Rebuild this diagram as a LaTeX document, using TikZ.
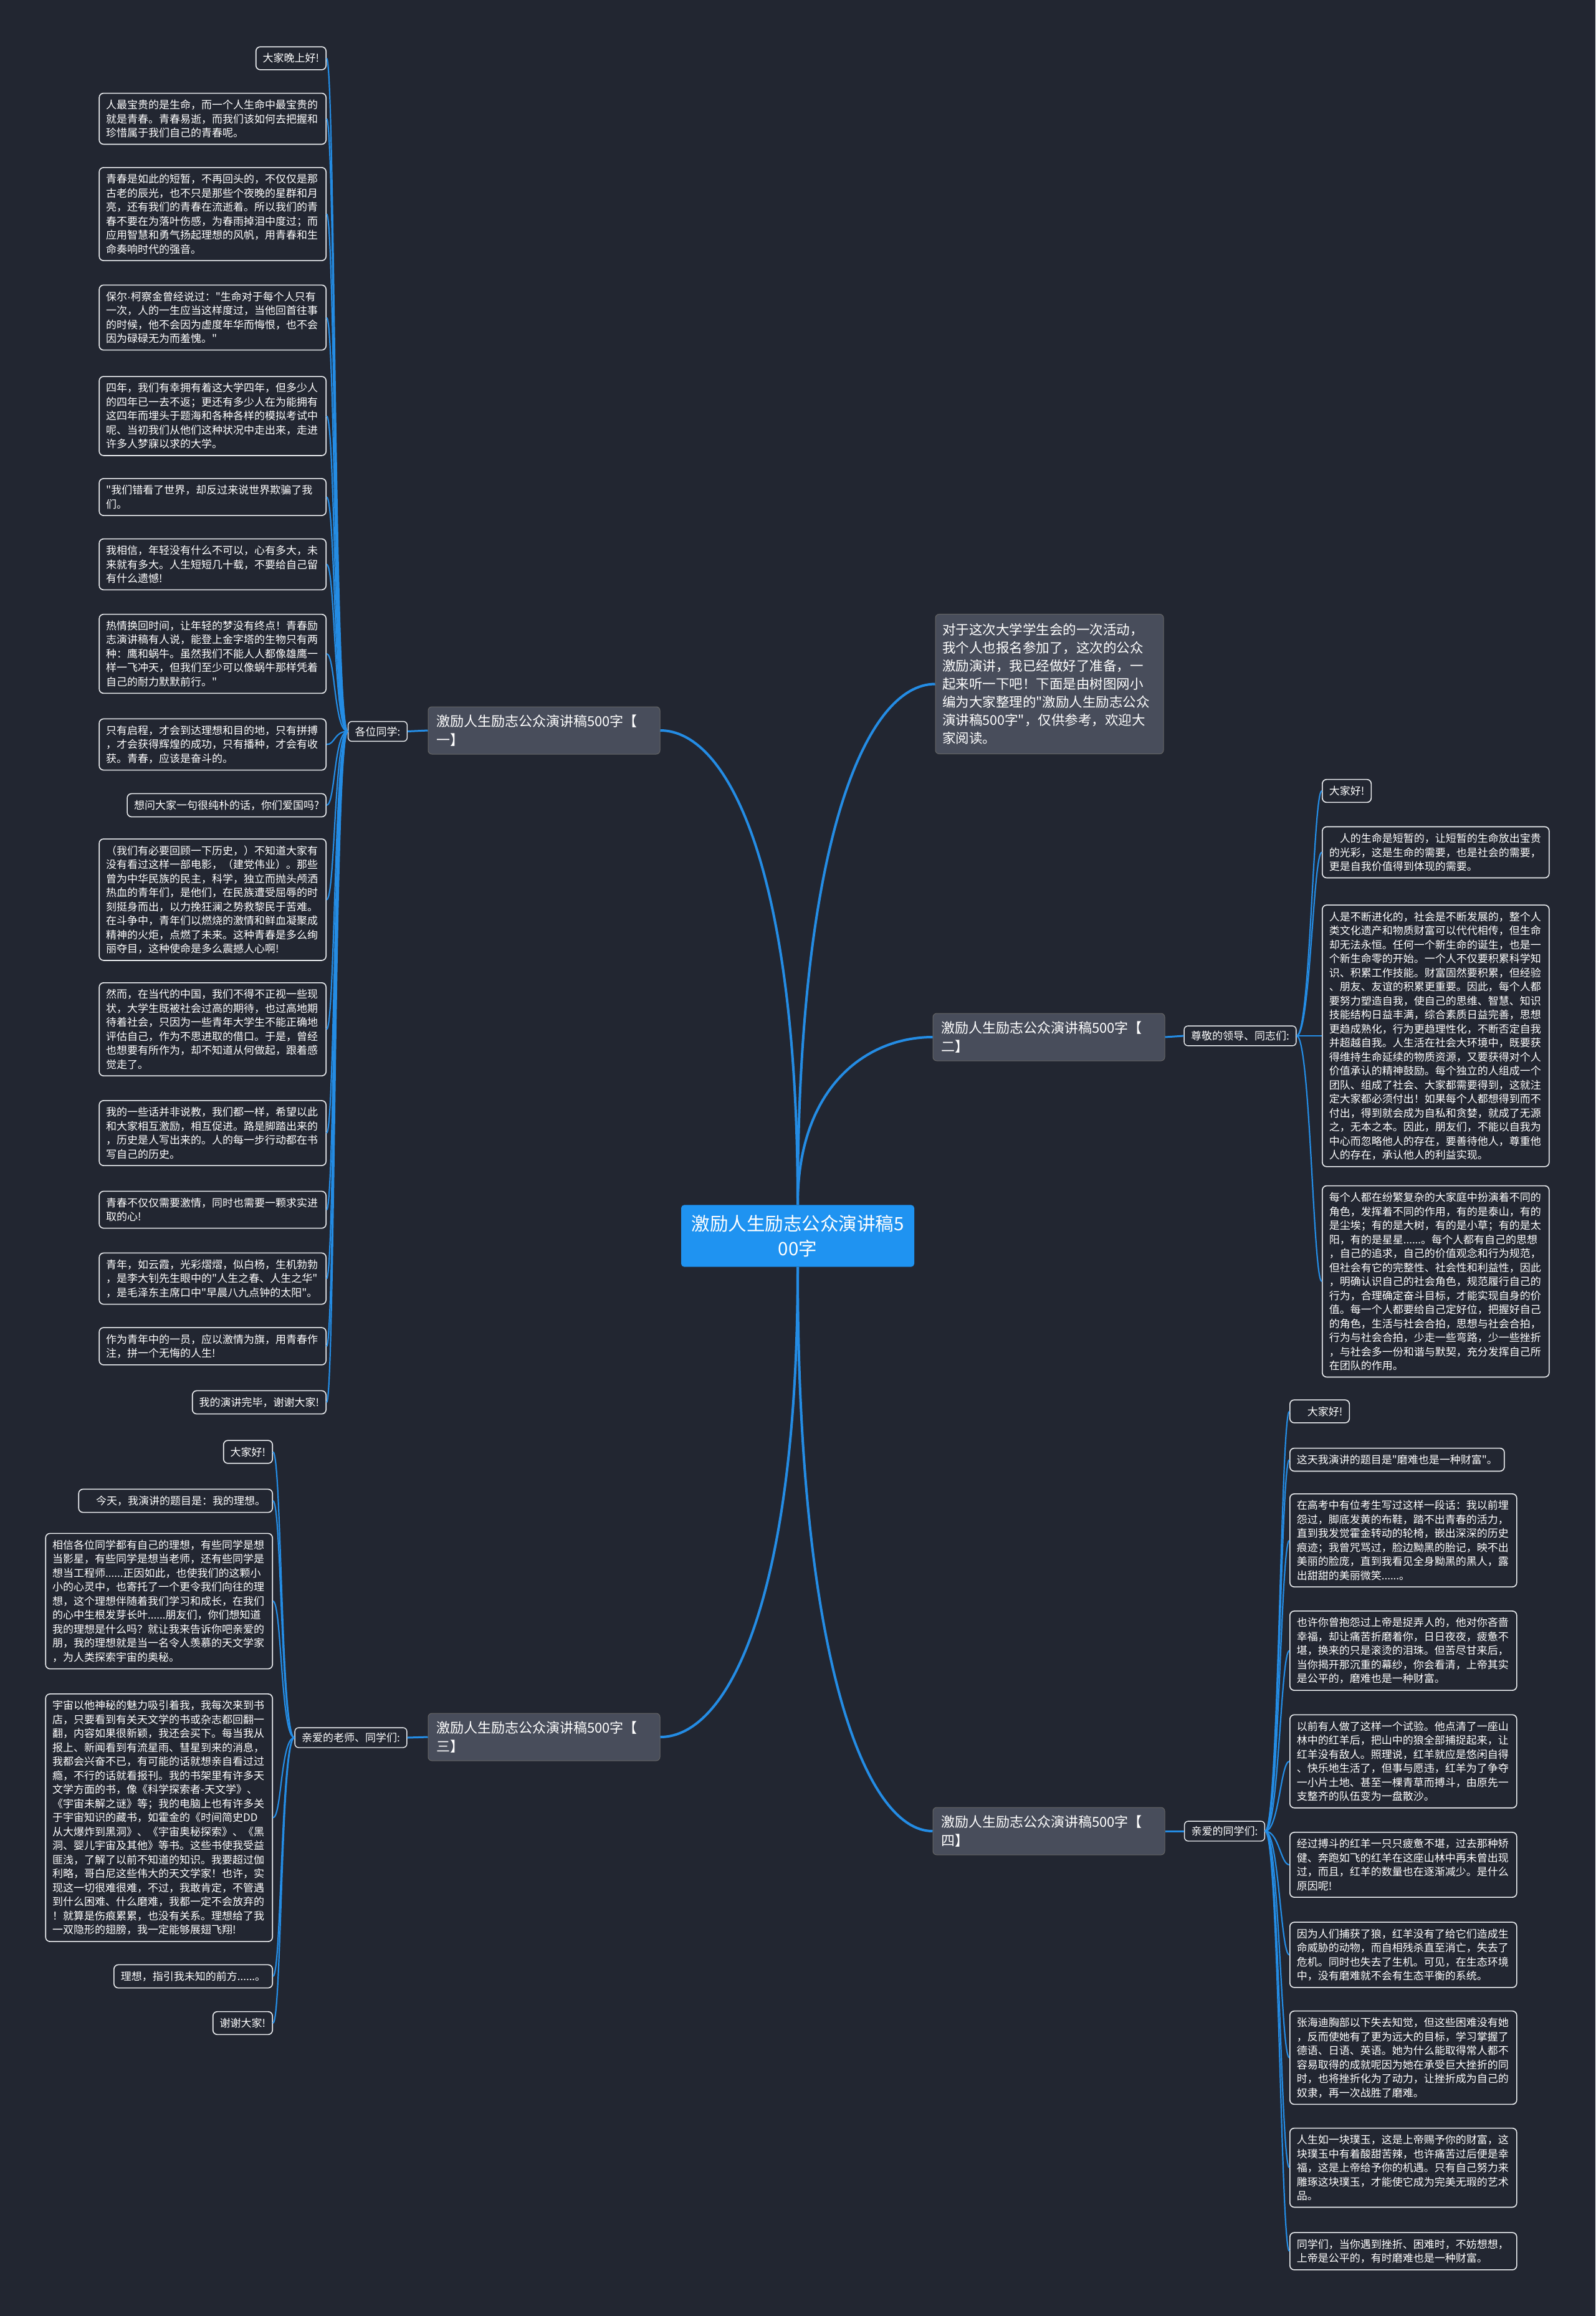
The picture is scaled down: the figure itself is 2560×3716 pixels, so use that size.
\documentclass[tikz,border=0pt]{standalone}
\usepackage{fontspec}
\newfontfamily\cjk{Noto Sans CJK SC}
\newfontfamily\latinf{Liberation Sans}
\definecolor{bg}{RGB}{34,38,49}
\definecolor{boxgray}{RGB}{72,77,91}
\definecolor{centerblue}{RGB}{31,147,241}
\definecolor{linkblue}{RGB}{36,140,228}
\definecolor{leafline}{RGB}{235,237,240}
\tikzset{
  leaf/.style={draw=leafline, line width=1.6pt, fill=bg, rounded corners=7pt, text=white,
    inner xsep=11pt, inner ysep=10.5pt, font={\cjk\fontsize{17}{22.5}\selectfont}, align=left},
  wide/.style={text width=342pt},
  lab/.style={draw=leafline, line width=1.4pt, fill=bg, rounded corners=6pt, text=white,
    inner xsep=11pt, inner ysep=8pt, font={\cjk\fontsize{17}{22.5}\selectfont}},
  branch/.style={fill=boxgray, draw=black!60, line width=1pt, rounded corners=6pt, text=white,
    text width=346pt, align=left, inner xsep=13pt, inner ysep=13pt, font={\cjk\fontsize{22}{29.5}\selectfont}},
  intro/.style={fill=boxgray, draw=black!60, line width=1pt, rounded corners=6pt, text=white,
    text width=344pt, align=left, inner xsep=11pt, inner ysep=15pt, font={\cjk\fontsize{21.5}{29}\selectfont}},
  root/.style={fill=centerblue, rounded corners=5pt, text=white, text width=344pt, align=center,
    inner xsep=15pt, inner ysep=16pt, font={\cjk\fontsize{29.5}{40}\selectfont}},
  mainlink/.style={draw=linkblue, line width=4pt},
  sublink/.style={draw=linkblue, line width=3pt},
  leaflink/.style={draw=linkblue, line width=2.2pt},
}
\begin{document}
\begin{tikzpicture}[x=1pt,y=-1pt]
\fill[bg] (0,0) rectangle (2560,3716);
\useasboundingbox (0,0) rectangle (2560,3716);

% ---- root and level 1
\node[root] (c) at (1280,1983) {激励人生励志公众演讲稿5\\00字};
\node[intro] (intro) at (1684,1097.5) {对于这次大学学生会的一次活动，\\我个人也报名参加了，这次的公众\\激励演讲，我已经做好了准备，一\\起来听一下吧！下面是由树图网小\\编为大家整理的"激励人生励志公众\\演讲稿500字"，仅供参考，欢迎大\\家阅读。};
\node[branch] (b1) at (873,1172) {激励人生励志公众演讲稿500字【\\一】};
\node[branch] (b2) at (1683,1664) {激励人生励志公众演讲稿500字【\\二】};
\node[branch] (b3) at (873,2787) {激励人生励志公众演讲稿500字【\\三】};
\node[branch] (b4) at (1683,2938) {激励人生励志公众演讲稿500字【\\四】};

\node[lab] (l1) at (606,1173.5) {各位同学:};
\node[lab] (l2) at (1990,1662) {尊敬的领导、同志们:};
\node[lab] (l3) at (563,2788) {亲爱的老师、同学们:};
\node[lab] (l4) at (1965,2938) {亲爱的同学们:};

% ---- branch 1 leaves
\node[leaf, anchor=east] (a1) at (524,93.5) {大家晚上好!};
\node[leaf, wide, anchor=east] (a2) at (524,190.5) {人最宝贵的是生命，而一个人生命中最宝贵的\\就是青春。青春易逝，而我们该如何去把握和\\珍惜属于我们自己的青春呢。};
\node[leaf, wide, anchor=east] (a3) at (524,343.5) {青春是如此的短暂，不再回头的，不仅仅是那\\古老的辰光，也不只是那些个夜晚的星群和月\\亮，还有我们的青春在流逝着。所以我们的青\\春不要在为落叶伤感，为春雨掉泪中度过；而\\应用智慧和勇气扬起理想的风帆，用青春和生\\命奏响时代的强音。};
\node[leaf, wide, anchor=east] (a4) at (524,509.5) {保尔{\latinf ·}柯察金曾经说过："生命对于每个人只有\\一次，人的一生应当这样度过，当他回首往事\\的时候，他不会因为虚度年华而悔恨，也不会\\因为碌碌无为而羞愧。"};
\node[leaf, wide, anchor=east] (a5) at (524,667.5) {四年，我们有幸拥有着这大学四年，但多少人\\的四年已一去不返；更还有多少人在为能拥有\\这四年而埋头于题海和各种各样的模拟考试中\\呢、当初我们从他们这种状况中走出来，走进\\许多人梦寐以求的大学。};
\node[leaf, wide, anchor=east] (a6) at (524,797.5) {"我们错看了世界，却反过来说世界欺骗了我\\们。};
\node[leaf, wide, anchor=east] (a7) at (524,905.5) {我相信，年轻没有什么不可以，心有多大，未\\来就有多大。人生短短几十载，不要给自己留\\有什么遗憾!};
\node[leaf, wide, anchor=east] (a8) at (524,1049) {热情换回时间，让年轻的梦没有终点！青春励\\志演讲稿有人说，能登上金字塔的生物只有两\\种：鹰和蜗牛。虽然我们不能人人都像雄鹰一\\样一飞冲天，但我们至少可以像蜗牛那样凭着\\自己的耐力默默前行。"};
\node[leaf, wide, anchor=east] (a9) at (524,1194.5) {只有启程，才会到达理想和目的地，只有拼搏\\，才会获得辉煌的成功，只有播种，才会有收\\获。青春，应该是奋斗的。};
\node[leaf, anchor=east] (a10) at (524,1292) {想问大家一句很纯朴的话，你们爱国吗?};
\node[leaf, wide, anchor=east] (a11) at (524,1443.5) {（我们有必要回顾一下历史，）不知道大家有\\没有看过这样一部电影，（建党伟业）。那些\\曾为中华民族的民主，科学，独立而抛头颅洒\\热血的青年们，是他们，在民族遭受屈辱的时\\刻挺身而出，以力挽狂澜之势救黎民于苦难。\\在斗争中，青年们以燃烧的激情和鲜血凝聚成\\精神的火炬，点燃了未来。这种青春是多么绚\\丽夺目，这种使命是多么震撼人心啊!};
\node[leaf, wide, anchor=east] (a12) at (524,1651.5) {然而，在当代的中国，我们不得不正视一些现\\状，大学生既被社会过高的期待，也过高地期\\待着社会，只因为一些青年大学生不能正确地\\评估自己，作为不思进取的借口。于是，曾经\\也想要有所作为，却不知道从何做起，跟着感\\觉走了。};
\node[leaf, wide, anchor=east] (a13) at (524,1818) {我的一些话并非说教，我们都一样，希望以此\\和大家相互激励，相互促进。路是脚踏出来的\\，历史是人写出来的。人的每一步行动都在书\\写自己的历史。};
\node[leaf, wide, anchor=east] (a14) at (524,1941) {青春不仅仅需要激情，同时也需要一颗求实进\\取的心!};
\node[leaf, wide, anchor=east] (a15) at (524,2051.5) {青年，如云霞，光彩熠熠，似白杨，生机勃勃\\，是李大钊先生眼中的"人生之春、人生之华"\\，是毛泽东主席口中"早晨八九点钟的太阳"。};
\node[leaf, wide, anchor=east] (a16) at (524,2160) {作为青年中的一员，应以激情为旗，用青春作\\注，拼一个无悔的人生!};
\node[leaf, anchor=east] (a17) at (524,2250) {我的演讲完毕，谢谢大家!};

% ---- branch 2 leaves
\node[leaf, anchor=west] (d1) at (2121,1269) {大家好!};
\node[leaf, wide, anchor=west] (d2) at (2121,1367.5) {\hspace*{17pt}人的生命是短暂的，让短暂的生命放出宝贵\\的光彩，这是生命的需要，也是社会的需要，\\更是自我价值得到体现的需要。};
\node[leaf, wide, anchor=west] (d3) at (2121,1662) {人是不断进化的，社会是不断发展的，整个人\\类文化遗产和物质财富可以代代相传，但生命\\却无法永恒。任何一个新生命的诞生，也是一\\个新生命零的开始。一个人不仅要积累科学知\\识、积累工作技能。财富固然要积累，但经验\\、朋友、友谊的积累更重要。因此，每个人都\\要努力塑造自我，使自己的思维、智慧、知识\\技能结构日益丰满，综合素质日益完善，思想\\更趋成熟化，行为更趋理性化，不断否定自我\\并超越自我。人生活在社会大环境中，既要获\\得维持生命延续的物质资源，又要获得对个人\\价值承认的精神鼓励。每个独立的人组成一个\\团队、组成了社会、大家都需要得到，这就注\\定大家都必须付出！如果每个人都想得到而不\\付出，得到就会成为自私和贪婪，就成了无源\\之，无本之本。因此，朋友们，不能以自我为\\中心而忽略他人的存在，要善待他人，尊重他\\人的存在，承认他人的利益实现。};
\node[leaf, wide, anchor=west] (d4) at (2121,2056) {每个人都在纷繁复杂的大家庭中扮演着不同的\\角色，发挥着不同的作用，有的是泰山，有的\\是尘埃；有的是大树，有的是小草；有的是太\\阳，有的是星星......。每个人都有自己的思想\\，自己的追求，自己的价值观念和行为规范，\\但社会有它的完整性、社会性和利益性，因此\\，明确认识自己的社会角色，规范履行自己的\\行为，合理确定奋斗目标，才能实现自身的价\\值。每一个人都要给自己定好位，把握好自己\\的角色，生活与社会合拍，思想与社会合拍，\\行为与社会合拍，少走一些弯路，少一些挫折\\，与社会多一份和谐与默契，充分发挥自己所\\在团队的作用。};

% ---- branch 3 leaves
\node[leaf, anchor=east] (e1) at (438,2329.5) {大家好!};
\node[leaf, anchor=east] (e2) at (438,2408) {\hspace*{17pt}今天，我演讲的题目是：我的理想。};
\node[leaf, wide, anchor=east] (e3) at (438,2569) {相信各位同学都有自己的理想，有些同学是想\\当影星，有些同学是想当老师，还有些同学是\\想当工程师......正因如此，也使我们的这颗小\\小的心灵中，也寄托了一个更令我们向往的理\\想，这个理想伴随着我们学习和成长，在我们\\的心中生根发芽长叶......朋友们，你们想知道\\我的理想是什么吗？就让我来告诉你吧亲爱的\\朋，我的理想就是当一名令人羡慕的天文学家\\，为人类探索宇宙的奥秘。};
\node[leaf, wide, anchor=east] (e4) at (438,2916.5) {宇宙以他神秘的魅力吸引着我，我每次来到书\\店，只要看到有关天文学的书或杂志都回翻一\\翻，内容如果很新颖，我还会买下。每当我从\\报上、新闻看到有流星雨、彗星到来的消息，\\我都会兴奋不已，有可能的话就想亲自看过过\\瘾，不行的话就看报刊。我的书架里有许多天\\文学方面的书，像《科学探索者-天文学》、\\《宇宙未解之谜》等；我的电脑上也有许多关\\于宇宙知识的藏书，如霍金的《时间简史DD\\从大爆炸到黑洞》、《宇宙奥秘探索》、《黑\\洞、婴儿宇宙及其他》等书。这些书使我受益\\匪浅，了解了以前不知道的知识。我要超过伽\\利略，哥白尼这些伟大的天文学家！也许，实\\现这一切很难很难，不过，我敢肯定，不管遇\\到什么困难、什么磨难，我都一定不会放弃的\\！就算是伤痕累累，也没有关系。理想给了我\\一双隐形的翅膀，我一定能够展翅飞翔!};
\node[leaf, anchor=east] (e5) at (438,3171) {理想，指引我未知的前方......。};
\node[leaf, anchor=east] (e6) at (438,3246) {谢谢大家!};

% ---- branch 4 leaves
\node[leaf, anchor=west] (f1) at (2069,2264.5) {\hspace*{17pt}大家好!};
\node[leaf, anchor=west] (f2) at (2069,2342) {这天我演讲的题目是"磨难也是一种财富"。};
\node[leaf, wide, anchor=west] (f3) at (2069,2471.5) {在高考中有位考生写过这样一段话：我以前埋\\怨过，脚底发黄的布鞋，踏不出青春的活力，\\直到我发觉霍金转动的轮椅，嵌出深深的历史\\痕迹；我曾咒骂过，脸边黝黑的胎记，映不出\\美丽的脸庞，直到我看见全身黝黑的黑人，露\\出甜甜的美丽微笑......。};
\node[leaf, wide, anchor=west] (f4) at (2069,2648.5) {也许你曾抱怨过上帝是捉弄人的，他对你吝啬\\幸福，却让痛苦折磨着你，日日夜夜，疲惫不\\堪，换来的只是滚烫的泪珠。但苦尽甘来后，\\当你揭开那沉重的幕纱，你会看清，上帝其实\\是公平的，磨难也是一种财富。};
\node[leaf, wide, anchor=west] (f5) at (2069,2826) {以前有人做了这样一个试验。他点清了一座山\\林中的红羊后，把山中的狼全部捕捉起来，让\\红羊没有敌人。照理说，红羊就应是悠闲自得\\、快乐地生活了，但事与愿违，红羊为了争夺\\一小片土地、甚至一棵青草而搏斗，由原先一\\支整齐的队伍变为一盘散沙。};
\node[leaf, wide, anchor=west] (f6) at (2069,2992) {经过搏斗的红羊一只只疲惫不堪，过去那种矫\\健、奔跑如飞的红羊在这座山林中再未曾出现\\过，而且，红羊的数量也在逐渐减少。是什么\\原因呢!};
\node[leaf, wide, anchor=west] (f7) at (2069,3136.5) {因为人们捕获了狼，红羊没有了给它们造成生\\命威胁的动物，而自相残杀直至消亡，失去了\\危机。同时也失去了生机。可见，在生态环境\\中，没有磨难就不会有生态平衡的系统。};
\node[leaf, wide, anchor=west] (f8) at (2069,3301.5) {张海迪胸部以下失去知觉，但这些困难没有她\\，反而使她有了更为远大的目标，学习掌握了\\德语、日语、英语。她为什么能取得常人都不\\容易取得的成就呢因为她在承受巨大挫折的同\\时，也将挫折化为了动力，让挫折成为自己的\\奴隶，再一次战胜了磨难。};
\node[leaf, wide, anchor=west] (f9) at (2069,3478) {人生如一块璞玉，这是上帝赐予你的财富，这\\块璞玉中有着酸甜苦辣，也许痛苦过后便是幸\\福，这是上帝给予你的机遇。只有自己努力来\\雕琢这块璞玉，才能使它成为完美无瑕的艺术\\品。};
\node[leaf, wide, anchor=west] (f10) at (2069,3612) {同学们，当你遇到挫折、困难时，不妨想想，\\上帝是公平的，有时磨难也是一种财富。};

% ---- connectors (root to level 1)
\draw[mainlink] (c.north) .. controls (1280,1348) and (1390,1097.5) .. (intro.west);
\draw[mainlink] (c.north) .. controls (1280,1400) and (1170,1172) .. (b1.east);
\draw[mainlink] (c.north) .. controls (1280,1744) and (1390,1664) .. (b2.west);
\draw[mainlink] (c.south) .. controls (1280,2561) and (1170,2787) .. (b3.east);
\draw[mainlink] (c.south) .. controls (1280,2667) and (1390,2938) .. (b4.west);

\draw[sublink] (b1.west) -- (l1.east);
\draw[sublink] (b2.east) -- (l2.west);
\draw[sublink] (b3.west) -- (l3.east);
\draw[sublink] (b4.east) -- (l4.west);

\foreach \n in {a1,a2,a3,a4,a5,a6,a7,a8,a9,a10,a11,a12,a13,a14,a15,a16,a17}
  \draw[leaflink] (l1.west) .. controls +(-22,0) and +(14,0) .. (\n.east);
\foreach \n in {d1,d2,d3,d4}
  \draw[leaflink] (l2.east) .. controls +(22,0) and +(-14,0) .. (\n.west);
\foreach \n in {e1,e2,e3,e4,e5,e6}
  \draw[leaflink] (l3.west) .. controls +(-22,0) and +(14,0) .. (\n.east);
\foreach \n in {f1,f2,f3,f4,f5,f6,f7,f8,f9,f10}
  \draw[leaflink] (l4.east) .. controls +(22,0) and +(-14,0) .. (\n.west);
\end{tikzpicture}
\end{document}
